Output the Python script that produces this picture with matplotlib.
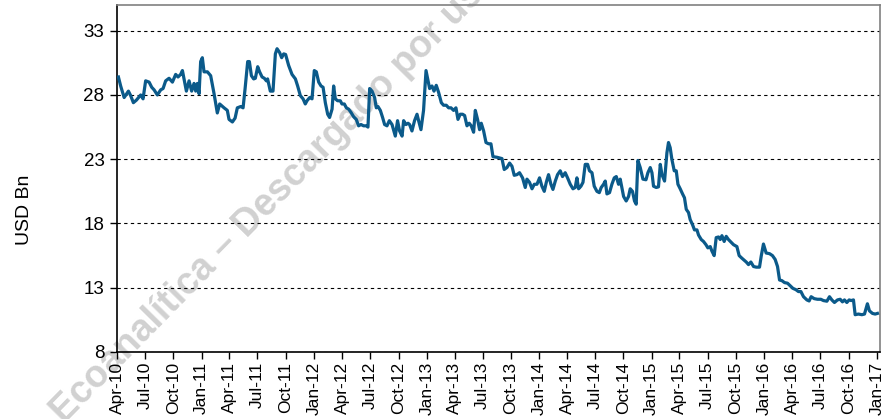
import numpy as np
import pandas as pd
import matplotlib
matplotlib.use("Agg")
import matplotlib.pyplot as plt
import matplotlib.dates as mdates

# readings taken off the chart: time as decimal year, reserves in USD Bn
years = [
    2010.259, 2010.279, 2010.310, 2010.348, 2010.368, 2010.392, 2010.419, 2010.457, 2010.478, 2010.501,
    2010.532, 2010.555, 2010.576, 2010.605, 2010.635, 2010.656, 2010.679, 2010.709, 2010.739, 2010.768,
    2010.789, 2010.812, 2010.828, 2010.843, 2010.863, 2010.887, 2010.910, 2010.931, 2010.946, 2010.961,
    2010.976, 2010.990, 2011.005, 2011.020, 2011.050, 2011.079, 2011.109, 2011.138, 2011.159, 2011.198,
    2011.227, 2011.242, 2011.272, 2011.296, 2011.316, 2011.346, 2011.367, 2011.385, 2011.408, 2011.423,
    2011.441, 2011.461, 2011.476, 2011.497, 2011.514, 2011.536, 2011.556, 2011.574, 2011.585, 2011.609,
    2011.633, 2011.654, 2011.669, 2011.692, 2011.710, 2011.728, 2011.745, 2011.772, 2011.802, 2011.832,
    2011.852, 2011.876, 2011.900, 2011.920, 2011.935, 2011.959, 2011.980, 2012.000, 2012.018, 2012.039,
    2012.060, 2012.078, 2012.098, 2012.119, 2012.136, 2012.158, 2012.172, 2012.187, 2012.207, 2012.231,
    2012.246, 2012.267, 2012.285, 2012.305, 2012.326, 2012.350, 2012.373, 2012.394, 2012.415, 2012.438,
    2012.462, 2012.477, 2012.492, 2012.513, 2012.536, 2012.551, 2012.566, 2012.587, 2012.607, 2012.625,
    2012.646, 2012.667, 2012.691, 2012.720, 2012.740, 2012.758, 2012.780, 2012.794, 2012.815, 2012.833,
    2012.847, 2012.868, 2012.891, 2012.913, 2012.927, 2012.948, 2012.971, 2012.993, 2013.011, 2013.025,
    2013.046, 2013.064, 2013.084, 2013.105, 2013.129, 2013.149, 2013.173, 2013.194, 2013.215, 2013.238,
    2013.259, 2013.277, 2013.297, 2013.318, 2013.336, 2013.357, 2013.377, 2013.395, 2013.416, 2013.431,
    2013.451, 2013.469, 2013.484, 2013.505, 2013.526, 2013.549, 2013.570, 2013.588, 2013.624, 2013.668,
    2013.688, 2013.712, 2013.736, 2013.757, 2013.777, 2013.801, 2013.824, 2013.851, 2013.875, 2013.890,
    2013.913, 2013.935, 2013.955, 2013.979, 2014.002, 2014.023, 2014.044, 2014.062, 2014.082, 2014.103,
    2014.121, 2014.142, 2014.162, 2014.186, 2014.206, 2014.230, 2014.251, 2014.275, 2014.299, 2014.319,
    2014.334, 2014.349, 2014.370, 2014.388, 2014.408, 2014.429, 2014.446, 2014.468, 2014.488, 2014.512,
    2014.533, 2014.550, 2014.571, 2014.586, 2014.601, 2014.624, 2014.645, 2014.666, 2014.684, 2014.704,
    2014.719, 2014.749, 2014.772, 2014.793, 2014.808, 2014.828, 2014.846, 2014.861, 2014.876, 2014.897,
    2014.921, 2014.948, 2014.965, 2014.986, 2015.001, 2015.015, 2015.039, 2015.059, 2015.075, 2015.090,
    2015.113, 2015.134, 2015.148, 2015.163, 2015.178, 2015.199, 2015.217, 2015.232, 2015.252, 2015.273,
    2015.290, 2015.306, 2015.326, 2015.341, 2015.362, 2015.379, 2015.401, 2015.415, 2015.439, 2015.459,
    2015.481, 2015.498, 2015.519, 2015.534, 2015.554, 2015.572, 2015.593, 2015.608, 2015.623, 2015.643,
    2015.661, 2015.681, 2015.703, 2015.726, 2015.756, 2015.776, 2015.800, 2015.839, 2015.859, 2015.880,
    2015.904, 2015.928, 2015.957, 2015.972, 2015.992, 2016.016, 2016.046, 2016.072, 2016.096, 2016.117,
    2016.135, 2016.156, 2016.179, 2016.206, 2016.230, 2016.254, 2016.280, 2016.303, 2016.325, 2016.348,
    2016.378, 2016.398, 2016.416, 2016.443, 2016.472, 2016.502, 2016.525, 2016.556, 2016.579, 2016.600,
    2016.623, 2016.650, 2016.674, 2016.694, 2016.712, 2016.733, 2016.754, 2016.772, 2016.792, 2016.807,
    2016.836, 2016.867, 2016.890, 2016.916, 2016.934, 2016.961, 2016.985, 2017.005,
]
reserves = [
    29.4, 28.7, 27.8, 28.3, 27.95, 27.4, 27.6, 28.0, 27.7, 29.1,
    29.0, 28.6, 28.4, 28.0, 28.4, 28.5, 29.1, 29.3, 29.0, 29.6,
    29.4, 29.6, 29.9, 29.2, 28.3, 29.1, 28.3, 28.9, 28.3, 28.9,
    28.1, 30.6, 30.9, 29.8, 29.8, 29.5, 28.1, 26.6, 27.3, 27.0,
    26.8, 26.1, 25.9, 26.2, 27.0, 27.1, 27.0, 28.5, 30.6, 30.6,
    29.5, 29.25, 29.3, 30.2, 29.8, 29.4, 29.3, 29.1, 29.25, 28.3,
    28.3, 31.2, 31.6, 31.3, 30.9, 31.2, 31.15, 30.3, 29.6, 29.25,
    28.7, 27.95, 27.7, 27.3, 27.55, 27.8, 27.7, 29.9, 29.8, 29.0,
    28.7, 28.6, 27.4, 26.5, 26.25, 26.9, 28.7, 27.7, 27.55, 27.55,
    27.3, 27.3, 27.0, 26.9, 26.65, 26.3, 26.1, 25.6, 25.7, 25.6,
    25.6, 25.5, 28.5, 28.3, 27.8, 27.0, 27.1, 26.8, 26.25, 25.7,
    25.6, 26.0, 25.7, 24.8, 26.0, 25.2, 24.8, 26.0, 25.7, 25.8,
    25.7, 25.2, 26.0, 26.5, 26.0, 25.3, 26.8, 29.9, 29.1, 28.5,
    28.7, 28.3, 28.75, 28.2, 27.4, 27.2, 27.2, 27.0, 27.0, 26.8,
    27.0, 26.1, 26.5, 26.5, 26.4, 25.6, 25.8, 25.6, 25.1, 26.8,
    26.1, 25.3, 25.8, 25.2, 24.3, 24.2, 24.2, 23.2, 23.15, 23.05,
    22.2, 22.35, 22.7, 22.45, 21.75, 21.8, 21.95, 21.55, 20.8, 21.45,
    21.2, 20.7, 21.05, 21.05, 21.55, 20.9, 20.5, 21.2, 21.8, 21.05,
    20.65, 21.3, 21.8, 22.1, 21.65, 21.95, 21.55, 21.05, 20.7, 20.8,
    21.55, 20.7, 20.9, 21.2, 22.6, 22.6, 22.1, 21.95, 20.9, 20.5,
    20.4, 20.8, 21.05, 21.3, 20.3, 20.4, 21.05, 21.55, 21.65, 21.05,
    21.45, 20.1, 19.75, 20.1, 20.7, 20.5, 19.75, 19.5, 22.9, 22.35,
    21.45, 21.4, 21.95, 22.35, 21.95, 20.9, 20.8, 20.85, 22.6, 21.8,
    21.3, 23.5, 24.3, 23.9, 23.0, 22.1, 22.1, 21.05, 20.7, 20.3,
    20.0, 19.1, 18.85, 18.3, 17.9, 17.5, 17.5, 17.1, 16.75, 16.6,
    16.35, 16.1, 16.2, 15.85, 15.5, 16.9, 16.95, 16.75, 17.05, 16.6,
    17.0, 16.75, 16.55, 16.35, 16.2, 15.5, 15.3, 15.0, 14.8, 15.0,
    14.65, 14.6, 14.6, 15.45, 16.4, 15.7, 15.65, 15.5, 15.2, 14.65,
    13.6, 13.55, 13.4, 13.35, 13.15, 12.95, 12.85, 12.7, 12.7, 12.3,
    12.05, 11.97, 12.3, 12.15, 12.1, 12.1, 12.0, 11.95, 12.3, 12.05,
    11.85, 12.05, 12.1, 11.9, 12.05, 11.85, 12.05, 12.0, 12.05, 10.9,
    10.95, 10.9, 10.95, 11.75, 11.2, 11.0, 10.95, 11.0,
]
y_ticks = [8, 13, 18, 23, 28, 33]

yrs = np.array(years)
dates = pd.Timestamp("2010-01-01") + pd.to_timedelta((yrs - 2010) * 365.25, unit="D")

plt.rcParams["font.family"] = ["Liberation Sans", "DejaVu Sans"]

fig = plt.figure(figsize=(8.89, 4.19), dpi=100)
ax = fig.add_axes([0.1316, 0.16, 0.8583, 0.828])

ax.plot(dates, reserves, color="#0b5a8a", lw=2.3, zorder=3)

ax.set_ylim(8, 35)
ax.set_yticks(y_ticks)
ax.set_xlim(pd.Timestamp("2010-04-01"), pd.Timestamp("2017-01-11"))
ax.xaxis.set_major_locator(mdates.MonthLocator(bymonth=[1, 4, 7, 10]))
ax.xaxis.set_major_formatter(mdates.DateFormatter("%b-%y"))
plt.setp(ax.get_xticklabels(), rotation=90)

ax.yaxis.grid(True, color="black", linestyle=(0, (3, 3)), lw=0.8)
ax.tick_params(axis="both", length=5, width=1, color="black")
ax.tick_params(axis="x", labelsize=12.5, pad=2)
ax.tick_params(axis="y", labelsize=13.5, pad=4)

for s in ["left", "bottom"]:
    ax.spines[s].set_color("black")
    ax.spines[s].set_linewidth(1.2)
for s in ["top", "right"]:
    ax.spines[s].set_color("#808080")
    ax.spines[s].set_linewidth(1.2)

ax.set_ylabel("USD Bn", fontsize=14)
ax.yaxis.set_label_coords(-0.11, 0.41)

# watermark
ax.text(0.072, -0.012, "Ecoanalítica \u2013 Descargado por usuario", transform=fig.transFigure,
        rotation=45.5, rotation_mode="anchor", ha="left", va="baseline",
        fontsize=27, fontweight="bold", color="#cccccc", alpha=0.9,
        clip_on=False, zorder=1)

fig.savefig("out.png", dpi=100)
